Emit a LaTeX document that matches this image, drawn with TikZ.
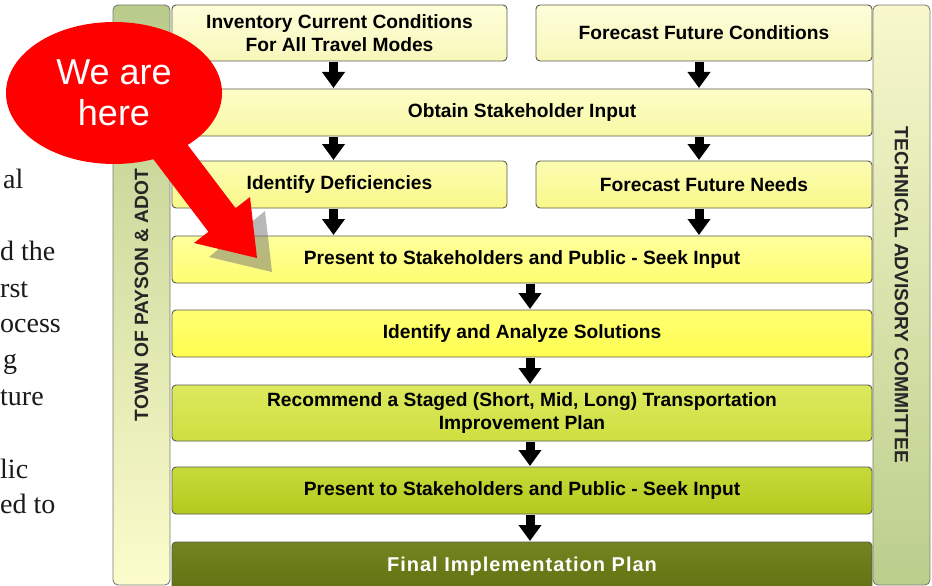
\documentclass[tikz,border=0pt]{standalone}
\usepackage{fontspec}
\newfontfamily\arialf{Liberation Sans}
\newfontfamily\seriff{Liberation Serif}
\newfontfamily\arialsp[LetterSpace=5]{Liberation Sans}
\usetikzlibrary{shapes.geometric,arrows.meta}
\definecolor{bordc}{HTML}{5A5A50}
\definecolor{aT}{HTML}{FEFEDA}\definecolor{aB}{HTML}{F7F7BA}
\definecolor{bT}{HTML}{FDFDC8}\definecolor{bB}{HTML}{F9F9A6}
\definecolor{cT}{HTML}{FCFCB2}\definecolor{cB}{HTML}{F8F88A}
\definecolor{dT}{HTML}{FFFF9C}\definecolor{dB}{HTML}{FEFE70}
\definecolor{eT}{HTML}{FFFF74}\definecolor{eB}{HTML}{FEFE50}
\definecolor{fT}{HTML}{DCE95E}\definecolor{fB}{HTML}{CEDF40}
\definecolor{gT}{HTML}{C6DA3A}\definecolor{gB}{HTML}{B4CA1E}
\definecolor{hT}{HTML}{74841F}\definecolor{hB}{HTML}{637213}
\definecolor{lbT}{HTML}{B9CB8B}\definecolor{lbB}{HTML}{FCFCCC}
\definecolor{rbT}{HTML}{F8F8CC}\definecolor{rbB}{HTML}{BBCE8C}
\definecolor{calloutred}{HTML}{FF0000}
\definecolor{bodytext}{HTML}{1A1A1A}
\begin{document}
\begin{tikzpicture}[x=1pt,y=-1pt,
  box/.style={draw=bordc, line width=0.9pt, rounded corners=4pt, inner sep=0pt, outer sep=0pt,
    align=center, text=black, font=\arialf\bfseries\fontsize{19.2}{23}\selectfont},
  bar/.style={draw=bordc!80, line width=0.9pt, rounded corners=5pt, inner sep=0pt, outer sep=0pt,
    minimum width=57pt, minimum height=580pt},
  barlabel/.style={font=\arialf\bfseries\fontsize{19.2}{22}\selectfont, text=black!85},
  flow/.style={line width=9pt, -{Triangle[width=22pt,length=16pt]}, shorten <=1pt, shorten >=1pt, black},
  frag/.style={anchor=base west, inner sep=0pt, text=bodytext, font=\seriff\fontsize{28}{32}\selectfont}
]
\useasboundingbox (0,0) rectangle (932,586);
\clip (0,0) rectangle (932,586);
\fill[white] (0,0) rectangle (932,586);

% left paragraph fragments
\node[frag] (t1) at (3,188) {al};
\node[frag] (t2) at (0,260) {d the};
\node[frag] (t3) at (0,297) {rst};
\node[frag] (t4) at (0,332) {ocess};
\node[frag] (t5) at (3,368) {g};
\node[frag] (t6) at (0,405) {ture};
\node[frag] (t7) at (0,478) {lic};
\node[frag] (t8) at (0,513) {ed to};

% side bars
\node[bar, top color=lbT, bottom color=lbB] (town) at (141.5,295) {};
\node[barlabel, rotate=90] (townlbl) at (town.center) {TOWN OF PAYSON \& ADOT};
\node[bar, top color=rbT, bottom color=rbB] (tac) at (901.5,295) {};
\node[barlabel, rotate=-90] (taclbl) at (tac.center) {TECHNICAL ADVISORY COMMITTEE};

% boxes
\node[box, top color=aT, bottom color=aB, minimum width=335pt, minimum height=56pt] (inv) at (339.5,33) {Inventory Current Conditions\\For All Travel Modes};
\node[box, top color=aT, bottom color=aB, minimum width=336pt, minimum height=56pt] (ffc) at (704,33) {Forecast Future Conditions};
\node[box, top color=bT, bottom color=bB, minimum width=700pt, minimum height=47pt] (obt) at (522,112.5) {Obtain Stakeholder Input};
\node[box, top color=cT, bottom color=cB, minimum width=335pt, minimum height=47pt] (def) at (339.5,184.5) {Identify Deficiencies};
\node[box, top color=cT, bottom color=cB, minimum width=336pt, minimum height=47pt] (ffn) at (704,184.5) {Forecast Future Needs};
\node[box, top color=dT, bottom color=dB, minimum width=700pt, minimum height=47pt] (pre1) at (522,259.5) {Present to Stakeholders and Public - Seek Input};
\node[box, top color=eT, bottom color=eB, minimum width=700pt, minimum height=47pt] (ana) at (522,333.5) {Identify and Analyze Solutions};
\node[box, top color=fT, bottom color=fB, minimum width=700pt, minimum height=56pt] (rec) at (522,413) {Recommend a Staged (Short, Mid, Long) Transportation\\Improvement Plan};
\node[box, top color=gT, bottom color=gB, minimum width=700pt, minimum height=47pt] (pre2) at (522,490.5) {Present to Stakeholders and Public - Seek Input};
\node[box, top color=hT, bottom color=hB, minimum width=700pt, minimum height=48pt, text=white, font=\arialsp\bfseries\fontsize{20}{22}\selectfont] (fin) at (522,566) {Final Implementation Plan};

% flow arrows
\draw[flow] ([xshift=-6pt]inv.south) -- ([xshift=-6pt]inv.south |- obt.north);
\draw[flow] ([xshift=-5pt]ffc.south) -- ([xshift=-5pt]ffc.south |- obt.north);
\draw[flow] ([xshift=-6pt]inv.south |- obt.south) -- ([xshift=-6pt]def.north);
\draw[flow] ([xshift=-5pt]ffc.south |- obt.south) -- ([xshift=-5pt]ffn.north);
\draw[flow] ([xshift=-6pt]def.south) -- ([xshift=-6pt]def.south |- pre1.north);
\draw[flow] ([xshift=-5pt]ffn.south) -- ([xshift=-5pt]ffn.south |- pre1.north);
\draw[flow] ([xshift=8pt]pre1.south) -- ([xshift=8pt]ana.north);
\draw[flow] ([xshift=8pt]ana.south) -- ([xshift=8pt]rec.north);
\draw[flow] ([xshift=8pt]rec.south) -- ([xshift=8pt]pre2.north);
\draw[flow] ([xshift=8pt]pre2.south) -- ([xshift=8pt]fin.north);

% callout
\coordinate (tip) at (257,258);
\fill[black!55, opacity=0.5] (209,257) -- (265,211) -- (272,272) -- cycle;
\node[ellipse, fill=calloutred, minimum width=216pt, minimum height=142pt, inner sep=0pt,
  text=white, align=center, font=\arialf\fontsize{36}{41}\selectfont] (here) at (114,93) {We are\\here};
\fill[calloutred] (163.6,113.2) -- (235.6,208.2) -- (250,197) -- (tip) -- (194,243) -- (208.4,231.8) -- (136.4,136.8) -- cycle;
\end{tikzpicture}
\end{document}
